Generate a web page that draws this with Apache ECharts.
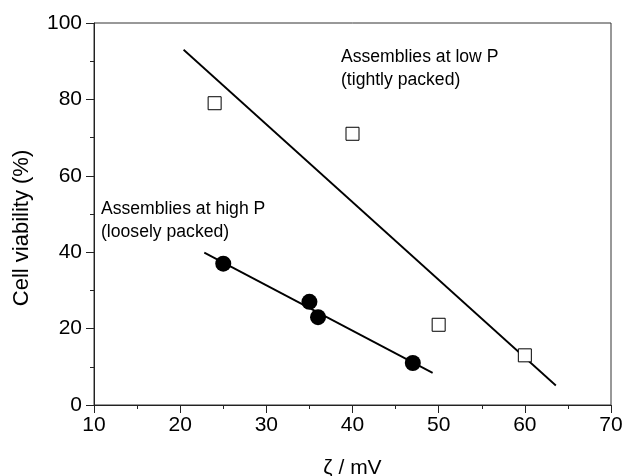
<!DOCTYPE html>
<html>
<head>
<meta charset="utf-8">
<script src="https://cdn.jsdelivr.net/npm/echarts@6/dist/echarts.min.js"></script>
<style>
  html, body { margin: 0; padding: 0; background: #fff; }
  #chart { width: 626px; height: 476px; }
</style>
</head>
<body>
<div id="chart"></div>
<script>
// Zeta potential (mV) vs. cell viability (%)
const lowPZeta = [24, 40, 50, 60];
const lowPViability = [79, 71, 21, 13];
const highPZeta = [25, 35, 36, 47];
const highPViability = [37, 27, 23, 11];

// Linear fit segments (endpoints of the drawn trend lines)
const lowPFitZeta = [20.4, 63.6];
const lowPFitViability = [93.0, 5.1];
const highPFitZeta = [22.8, 49.3];
const highPFitViability = [39.9, 8.4];

const xTicks = [10, 20, 30, 40, 50, 60, 70];
const yTicks = [0, 20, 40, 60, 80, 100];

const FONT = '"Liberation Sans", Arial, Helvetica, sans-serif';
const pairs = (xs, ys) => xs.map((x, i) => [x, ys[i]]);

const chart = echarts.init(document.getElementById('chart'), null, { renderer: 'canvas' });

const axisCommon = {
  axisLine: { show: true, lineStyle: { color: '#222', width: 1 } },
  splitLine: { show: false },
  minorTick: { show: true, splitNumber: 2, length: 4, lineStyle: { color: '#222' } },
  axisTick: { show: true, inside: false, length: 8, lineStyle: { color: '#222' } },
};

chart.setOption({
  animation: false,
  backgroundColor: '#fff',
  grid: {
    left: 94, right: 15, top: 23, bottom: 71,
    containLabel: false,
    outerBoundsMode: 'none',
    show: true, borderColor: '#333', borderWidth: 1, backgroundColor: 'transparent'
  },
  xAxis: Object.assign({}, axisCommon, {
    type: 'value',
    min: xTicks[0], max: xTicks[xTicks.length - 1], interval: 10,
    name: 'ζ / mV',
    nameLocation: 'middle',
    nameGap: 53,
    nameTextStyle: { fontFamily: FONT, fontSize: 21, color: '#000' },
    axisLabel: { fontFamily: FONT, fontSize: 21, color: '#000', margin: 10 }
  }),
  yAxis: Object.assign({}, axisCommon, {
    type: 'value',
    min: yTicks[0], max: yTicks[yTicks.length - 1], interval: 20,
    axisLabel: { fontFamily: FONT, fontSize: 21, color: '#000', margin: 12 }
  }),
  series: [
    {
      name: 'low P fit', type: 'line', data: pairs(lowPFitZeta, lowPFitViability),
      symbol: 'none', lineStyle: { color: '#000', width: 1.8 }, z: 2
    },
    {
      name: 'high P fit', type: 'line', data: pairs(highPFitZeta, highPFitViability),
      symbol: 'none', lineStyle: { color: '#000', width: 1.8 }, z: 2
    },
    {
      name: 'Assemblies at low P', type: 'scatter', data: pairs(lowPZeta, lowPViability),
      symbol: 'rect', symbolSize: 13,
      itemStyle: { color: '#fff', borderColor: '#000', borderWidth: 1, opacity: 1 }, z: 3
    },
    {
      name: 'Assemblies at high P', type: 'scatter', data: pairs(highPZeta, highPViability),
      symbol: 'circle', symbolSize: 16,
      itemStyle: { color: '#000', opacity: 1 }, z: 3
    }
  ],
  graphic: [
    {
      // y-axis title
      type: 'text', x: 22, y: 228, rotation: Math.PI / 2, z: 10,
      style: { text: 'Cell viability (%)', fontFamily: FONT, fontSize: 22, fill: '#000', align: 'center', verticalAlign: 'middle' }
    },
    {
      type: 'text', left: 341, top: 46, z: 10,
      style: { text: 'Assemblies at low P\n(tightly packed)', fontFamily: FONT, fontSize: 17.6, lineHeight: 23, fill: '#000' }
    },
    {
      type: 'text', left: 101, top: 198, z: 10,
      style: { text: 'Assemblies at high P\n(loosely packed)', fontFamily: FONT, fontSize: 17.6, lineHeight: 23, fill: '#000' }
    }
  ]
});
</script>
</body>
</html>
